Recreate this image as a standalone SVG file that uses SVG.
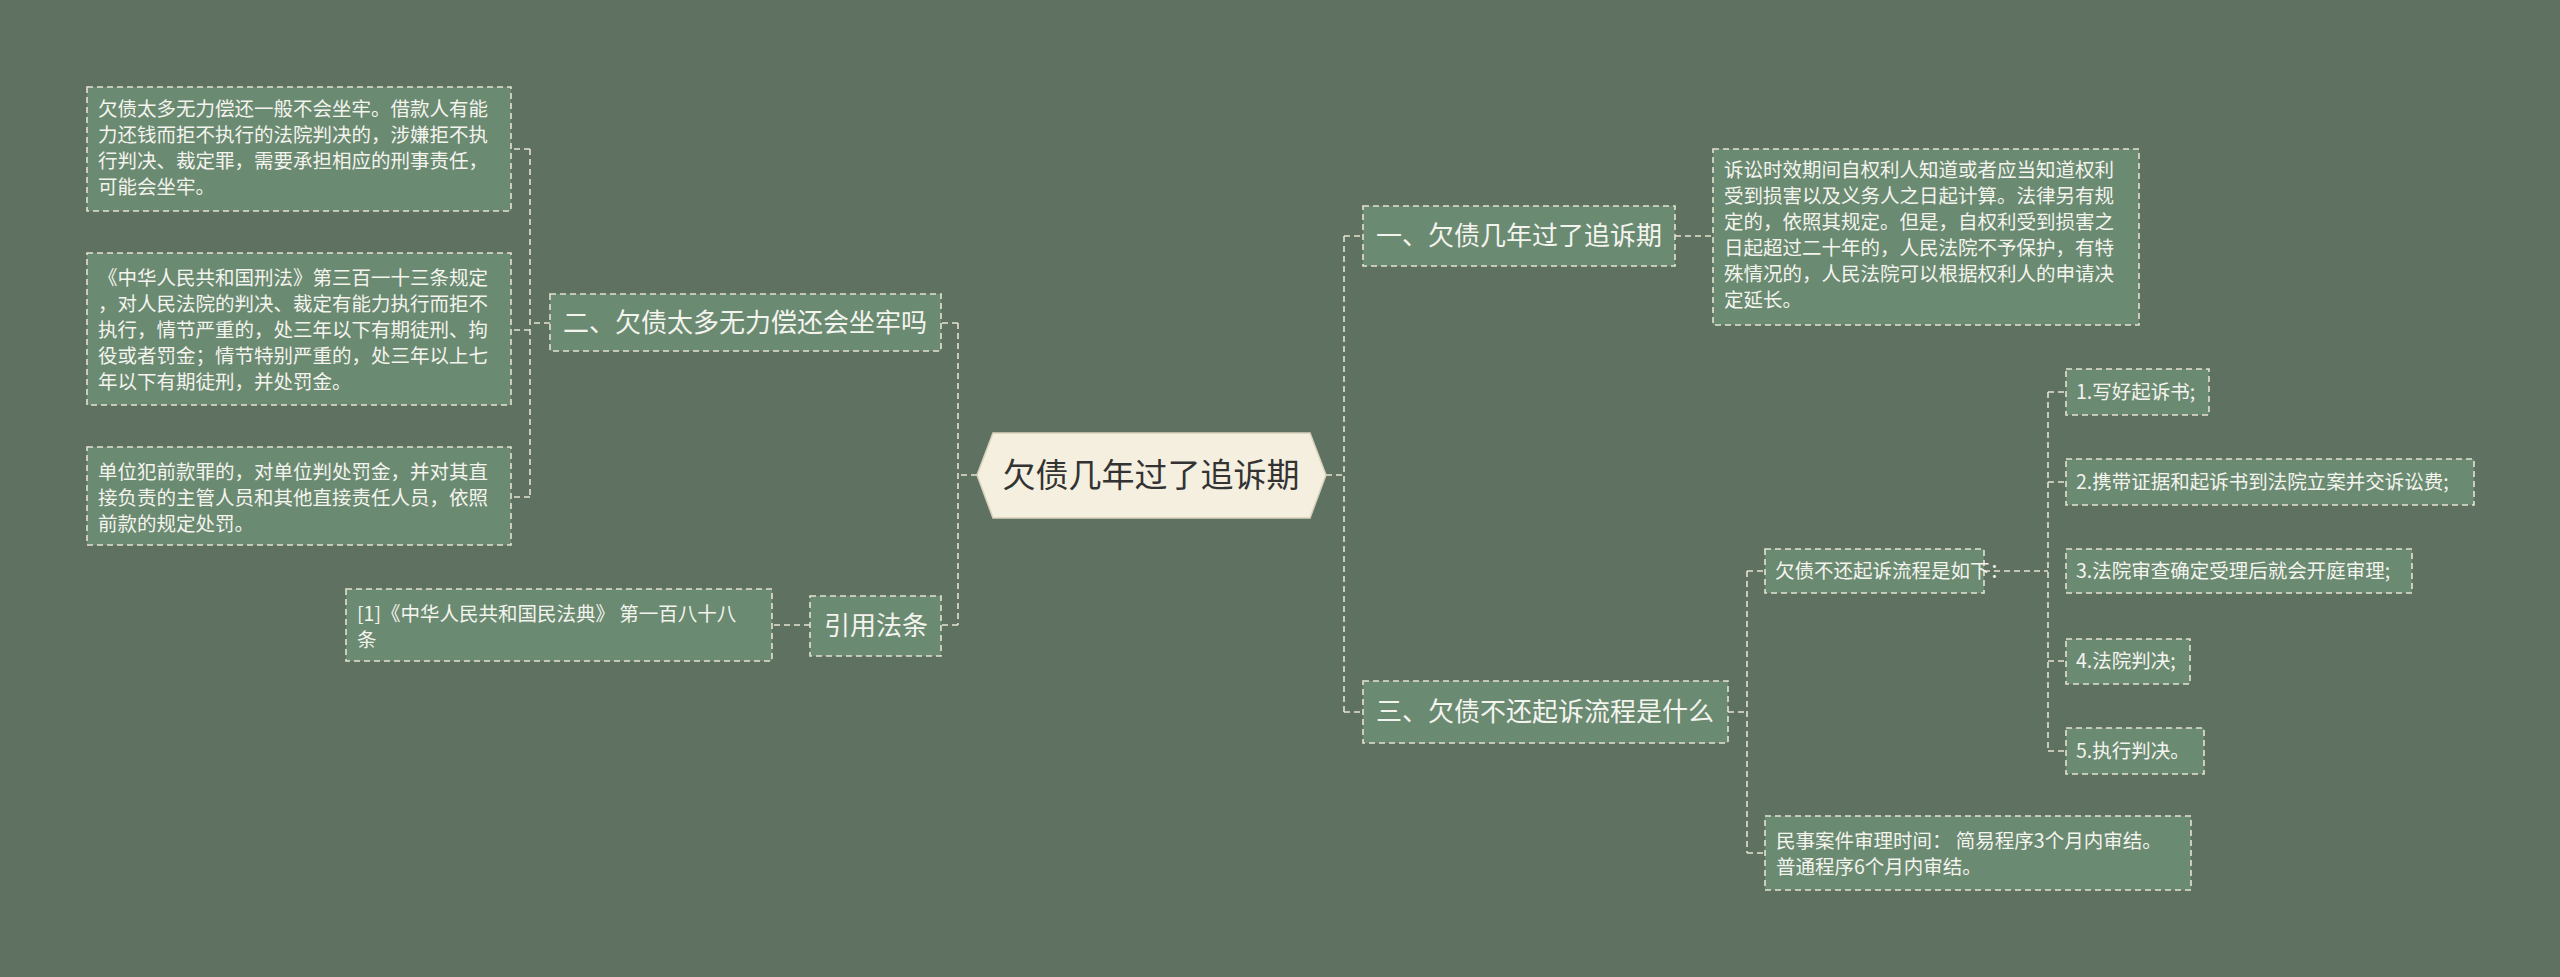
<svg xmlns="http://www.w3.org/2000/svg" width="2560" height="977" viewBox="0 0 2560 977">
<style>
.n{fill:#6b8a72;stroke:#e6e2d2;stroke-width:1.6;stroke-dasharray:6 4}
.c{fill:none;stroke:#e6e2d2;stroke-width:1.6;stroke-dasharray:6 4}
text{font-family:"Noto Sans CJK SC",sans-serif;fill:#f4f4ee}
.s{font-size:19.5px}
.m{font-size:26px}
</style>
<rect width="2560" height="977" fill="#5f7262"/>
<g id="connectors">
<path class="c" d="M977 475H958M958 323V625M958 323H941M958 625H941"/>
<path class="c" d="M550 323H530M530 149V497M530 149H511M530 330H511M530 497H511"/>
<path class="c" d="M810 625H772"/>
<path class="c" d="M1326 475H1344M1344 236V712M1344 236H1363M1344 712H1363"/>
<path class="c" d="M1675 236H1713"/>
<path class="c" d="M1728 712H1747M1747 571V853M1747 571H1765M1747 853H1765"/>
<path class="c" d="M1984 571H2048M2048 392V751M2048 392H2066M2048 482H2066M2048 661H2066M2048 751H2066"/>
</g>
<g id="center"><polygon points="977,475 993,433 1310,433 1326,475 1310,518 993,518" fill="#f4efdf" stroke="#d8d2bc" stroke-width="1.5"/><text x="1151" y="487" text-anchor="middle" style="font-size:33px;fill:#333">欠债几年过了追诉期</text></g>
<g id="b1"><rect class="n" x="87" y="87" width="424" height="124"/><text class="s"><tspan x="98" y="116">欠债太多无力偿还一般不会坐牢。借款人有能</tspan><tspan x="98" y="142">力还钱而拒不执行的法院判决的，涉嫌拒不执</tspan><tspan x="98" y="168">行判决、裁定罪，需要承担相应的刑事责任，</tspan><tspan x="98" y="194">可能会坐牢。</tspan></text></g>
<g id="b2"><rect class="n" x="87" y="253" width="424" height="152"/><text class="s"><tspan x="98" y="285">《中华人民共和国刑法》第三百一十三条规定</tspan><tspan x="98" y="311">，对人民法院的判决、裁定有能力执行而拒不</tspan><tspan x="98" y="337">执行，情节严重的，处三年以下有期徒刑、拘</tspan><tspan x="98" y="363">役或者罚金；情节特别严重的，处三年以上七</tspan><tspan x="98" y="389">年以下有期徒刑，并处罚金。</tspan></text></g>
<g id="b3"><rect class="n" x="87" y="447" width="424" height="98"/><text class="s"><tspan x="98" y="479">单位犯前款罪的，对单位判处罚金，并对其直</tspan><tspan x="98" y="505">接负责的主管人员和其他直接责任人员，依照</tspan><tspan x="98" y="531">前款的规定处罚。</tspan></text></g>
<g id="n2"><rect class="n" x="550" y="294" width="391" height="57"/><text class="m" x="563" y="332">二、欠债太多无力偿还会坐牢吗</text></g>
<g id="n4"><rect class="n" x="810" y="596" width="131" height="60"/><text class="m" x="824" y="635">引用法条</text></g>
<g id="ref"><rect class="n" x="346" y="589" width="426" height="72"/><text class="s"><tspan x="357" y="621">[1]《中华人民共和国民法典》 第一百八十八</tspan><tspan x="357" y="647">条</tspan></text></g>
<g id="n1"><rect class="n" x="1363" y="206" width="312" height="60"/><text class="m" x="1376" y="245">一、欠债几年过了追诉期</text></g>
<g id="d1"><rect class="n" x="1713" y="149" width="426" height="176"/><text class="s"><tspan x="1724" y="177">诉讼时效期间自权利人知道或者应当知道权利</tspan><tspan x="1724" y="203">受到损害以及义务人之日起计算。法律另有规</tspan><tspan x="1724" y="229">定的，依照其规定。但是，自权利受到损害之</tspan><tspan x="1724" y="255">日起超过二十年的，人民法院不予保护，有特</tspan><tspan x="1724" y="281">殊情况的，人民法院可以根据权利人的申请决</tspan><tspan x="1724" y="307">定延长。</tspan></text></g>
<g id="n3"><rect class="n" x="1363" y="681" width="365" height="62"/><text class="m" x="1376" y="721">三、欠债不还起诉流程是什么</text></g>
<g id="s1"><rect class="n" x="1765" y="549" width="219" height="44"/><text class="s" x="1775" y="578">欠债不还起诉流程是如下：</text></g>
<g id="s2"><rect class="n" x="1765" y="816" width="426" height="74"/><text class="s"><tspan x="1776" y="848">民事案件审理时间： 简易程序3个月内审结。</tspan><tspan x="1776" y="874">普通程序6个月内审结。</tspan></text></g>
<g id="i1"><rect class="n" x="2066" y="369" width="143" height="46"/><text class="s" x="2076" y="399">1.写好起诉书;</text></g>
<g id="i2"><rect class="n" x="2066" y="459" width="408" height="46"/><text class="s" x="2076" y="489">2.携带证据和起诉书到法院立案并交诉讼费;</text></g>
<g id="i3"><rect class="n" x="2066" y="549" width="346" height="44"/><text class="s" x="2076" y="578">3.法院审查确定受理后就会开庭审理;</text></g>
<g id="i4"><rect class="n" x="2066" y="639" width="124" height="45"/><text class="s" x="2076" y="668">4.法院判决;</text></g>
<g id="i5"><rect class="n" x="2066" y="728" width="138" height="46"/><text class="s" x="2076" y="758">5.执行判决。</text></g>
</svg>
